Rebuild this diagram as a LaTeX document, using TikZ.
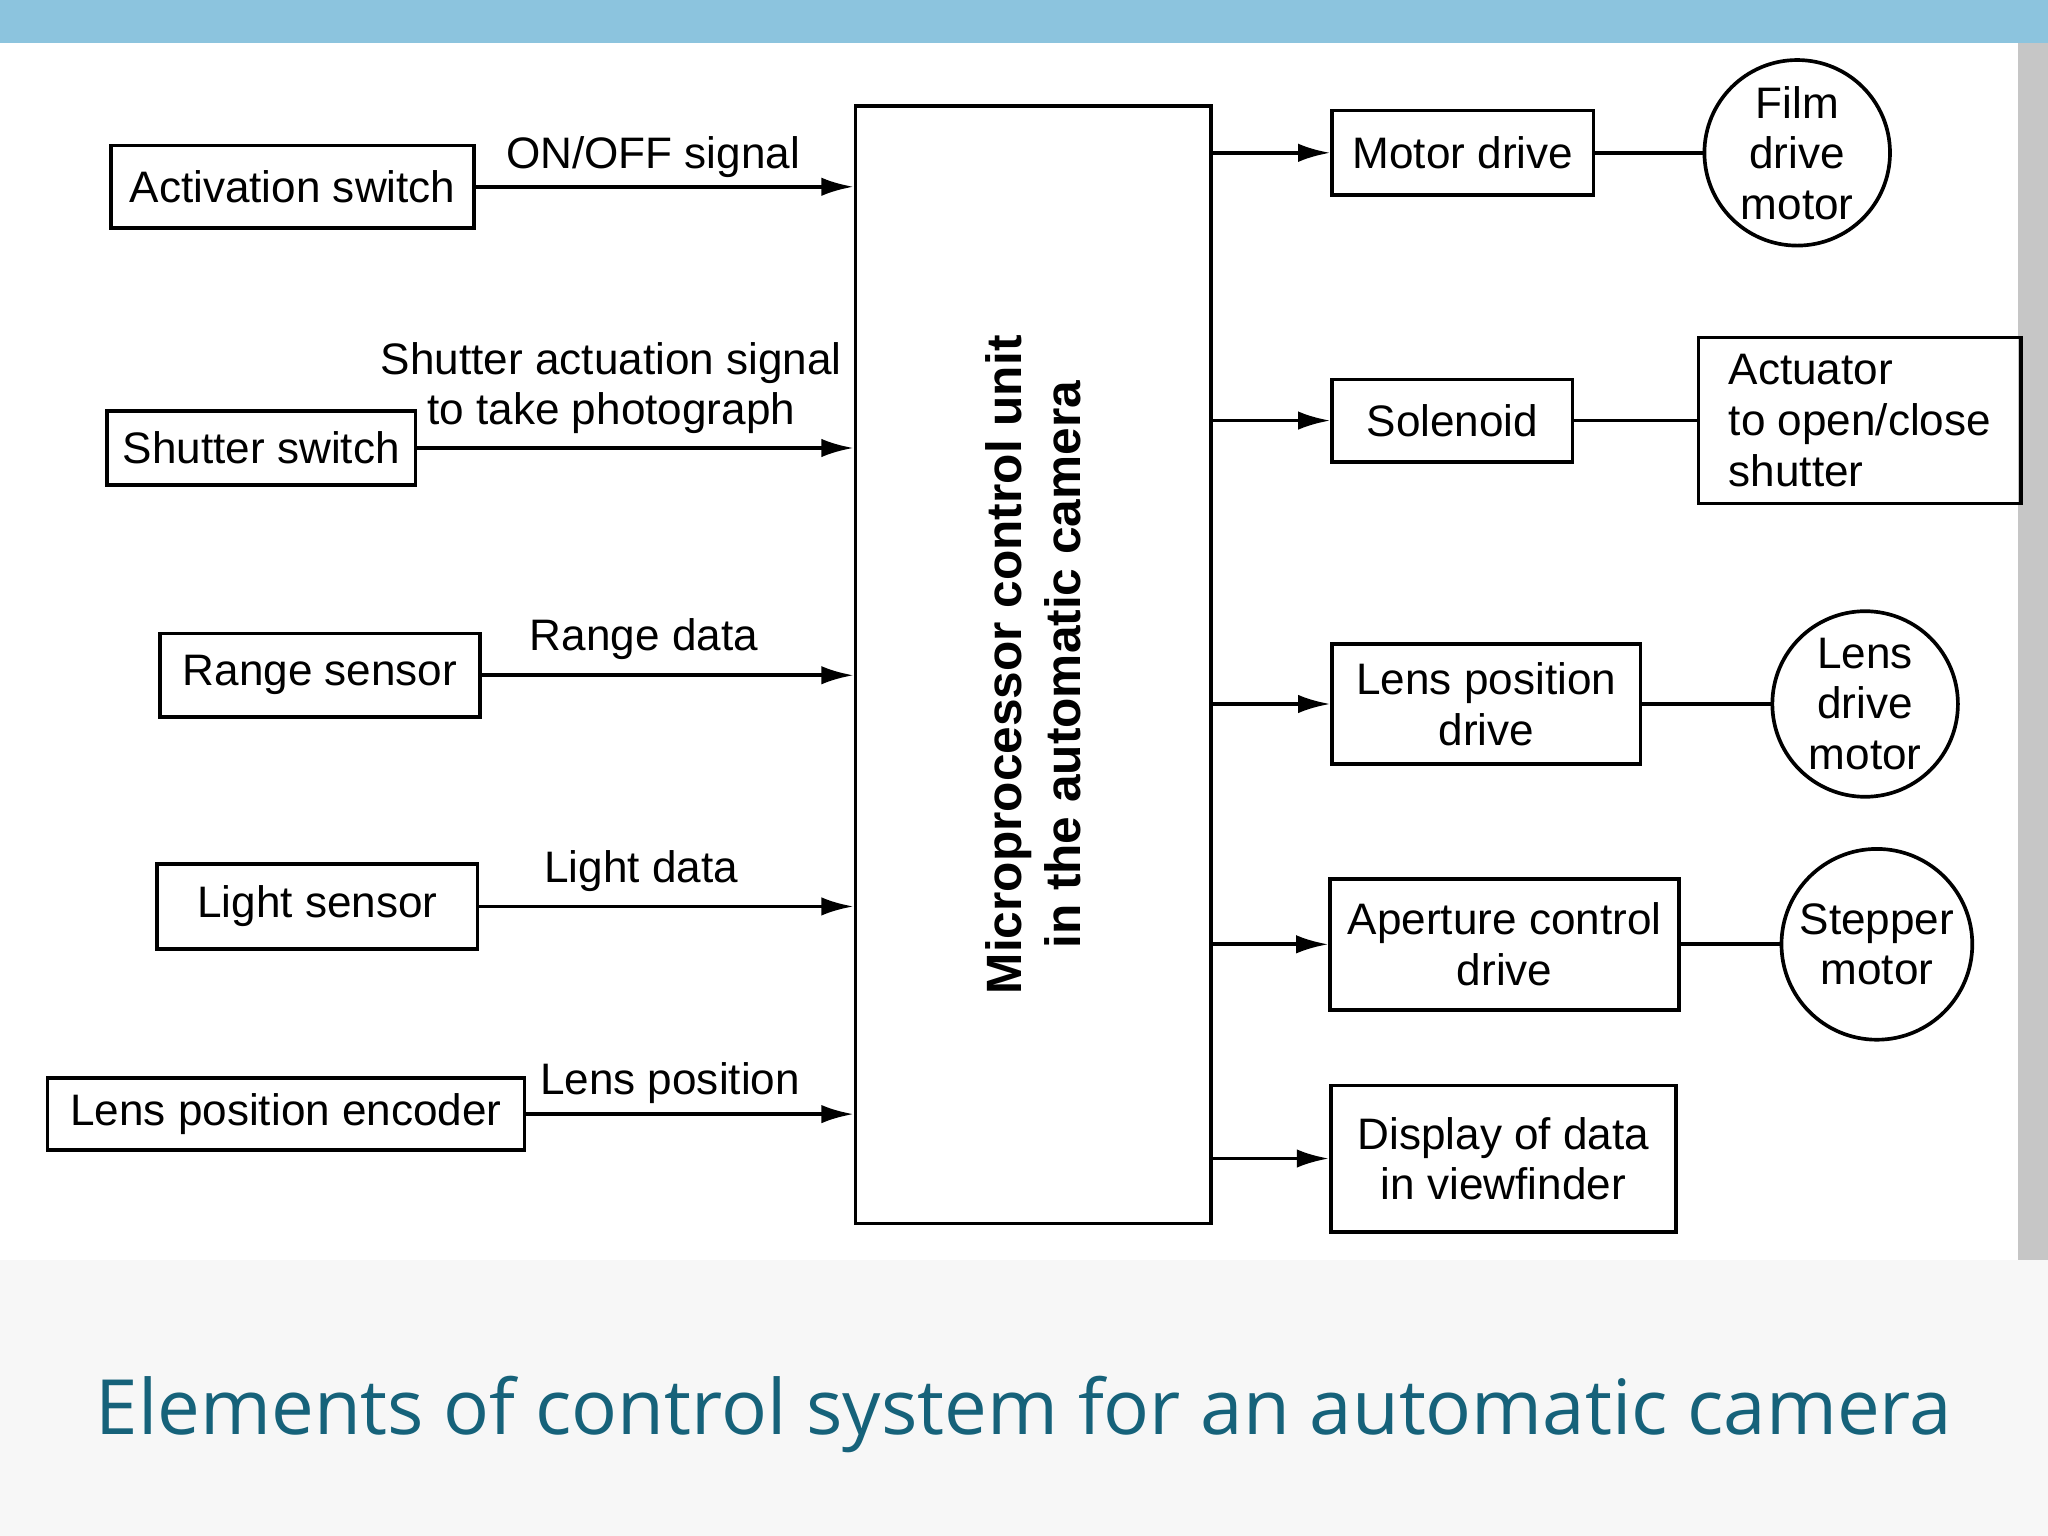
\documentclass[tikz,border=0pt]{standalone}
\usepackage{fontspec}
\setmainfont{Liberation Sans}
\newfontfamily\titlefont{Open Sans}
\usetikzlibrary{arrows.meta,positioning,calc}
\definecolor{banner}{RGB}{140,196,222}
\definecolor{titleteal}{RGB}{22,98,122}
\tikzset{
  blk/.style={draw,thick,inner sep=2pt,font=\fontsize{9.6pt}{11pt}\selectfont,align=center},
  mot/.style={draw,thick,circle,minimum size=1.42cm,inner sep=0pt,font=\fontsize{9.6pt}{11pt}\selectfont,align=center},
  sig/.style={thick,-{Latex[length=7pt,width=4pt]}},
  lnk/.style={thick},
  lab/.style={font=\fontsize{9.6pt}{11pt}\selectfont,align=center}
}
\begin{document}
\begin{tikzpicture}[x=0.01cm,y=-0.01cm]
    \useasboundingbox (0,0) rectangle (1568,1176);
    \fill[banner] (0,0) rectangle (1568,33);
    \fill[gray!6] (0,965) rectangle (1568,1176);
    \fill[gray!45] (1545,33) rectangle (1568,965);
    % central unit
    \node[blk,minimum width=2.72cm,minimum height=8.55cm] (mcu) at (791,509) {};
    \node[lab,rotate=90,font=\fontsize{10.8pt}{12.8pt}\selectfont\bfseries] at (mcu.center) {Microprocessor control unit\\in the automatic camera};
    % inputs
    \node[blk,minimum width=2.78cm,minimum height=0.63cm] (act) at (224,143) {Activation switch};
    \node[blk,minimum width=2.36cm,minimum height=0.57cm] (shu) at (200,343) {Shutter switch};
    \node[blk,minimum width=2.45cm,minimum height=0.64cm] (rng) at (245,517) {Range sensor};
    \node[blk,minimum width=2.45cm,minimum height=0.65cm] (lgt) at (243,694) {Light sensor};
    \node[blk,minimum width=3.65cm,minimum height=0.55cm] (enc) at (219,853) {Lens position encoder};
    \draw[sig] (act.east) -- (act.east -| mcu.west);
    \draw[sig] (shu.east) -- (shu.east -| mcu.west);
    \draw[sig] (rng.east) -- (rng.east -| mcu.west);
    \draw[sig] (lgt.east) -- (lgt.east -| mcu.west);
    \draw[sig] (enc.east) -- (enc.east -| mcu.west);
    \node[lab] at (500,120) {ON/OFF signal};
    \node[lab] at (468,297) {Shutter actuation signal\\to take photograph};
    \node[lab] at (493,489) {Range data};
    \node[lab] at (491,667) {Light data};
    \node[lab] at (513,829) {Lens position};
    % outputs
    \node[blk,minimum width=2.0cm,minimum height=0.65cm] (mdr) at (1120,117) {Motor drive};
    \node[blk,minimum width=1.84cm,minimum height=0.63cm] (sol) at (1112,322) {Solenoid};
    \node[blk,minimum width=2.36cm,minimum height=0.92cm] (lpd) at (1138,539) {Lens position\\drive};
    \node[blk,minimum width=2.67cm,minimum height=1.0cm] (apd) at (1152,723) {Aperture control\\drive};
    \node[blk,minimum width=2.64cm,minimum height=1.12cm] (dsp) at (1151,887) {Display of data\\in viewfinder};
    \draw[sig] (mcu.east |- mdr.west) -- (mdr.west);
    \draw[sig] (mcu.east |- sol.west) -- (sol.west);
    \draw[sig] (mcu.east |- lpd.west) -- (lpd.west);
    \draw[sig] (mcu.east |- apd.west) -- (apd.west);
    \draw[sig] (mcu.east |- dsp.west) -- (dsp.west);
    \node[mot] (film) at (1376,117) {Film\\drive\\motor};
    \node[blk,minimum width=2.47cm,minimum height=1.27cm,align=left] (actu) at (1424,322) {Actuator\\to open/close\\shutter};
    \node[mot] (lmot) at (1428,539) {Lens\\drive\\motor};
    \node[mot,minimum size=1.46cm] (step) at (1437,723) {Stepper\\motor};
    \draw[lnk] (mdr.east) -- (film.west);
    \draw[lnk] (sol.east) -- (actu.west |- sol.east);
    \draw[lnk] (lpd.east) -- (lmot.west);
    \draw[lnk] (apd.east) -- (step.west);
    % caption
    \node[font=\titlefont\fontsize{16.6pt}{20pt}\selectfont,text=titleteal] (cap) at (784,1083) {Elements of control system for an automatic camera};
\end{tikzpicture}
\end{document}
